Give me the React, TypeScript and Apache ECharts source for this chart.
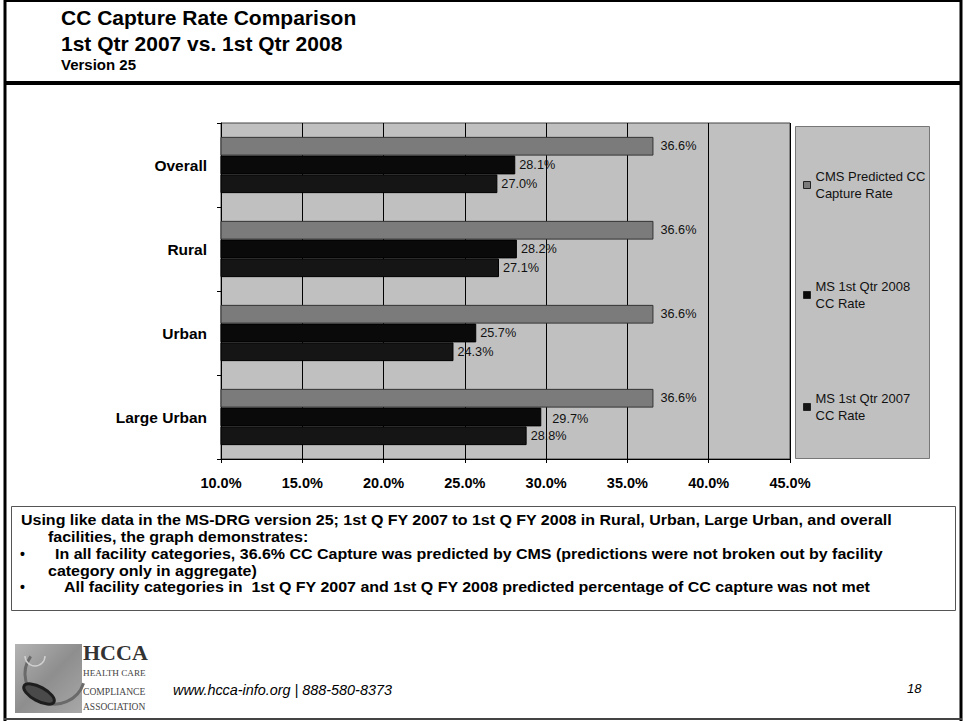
import { useEffect, useRef } from "react";
import * as echarts from "echarts";

// ---- data ----
const categories = ["Overall", "Rural", "Urban", "Large Urban"];
const seriesNames = [
  "CMS Predicted CC\nCapture Rate",
  "MS 1st Qtr 2008\nCC Rate",
  "MS 1st Qtr 2007\nCC Rate",
];
const cmsPredicted = [36.6, 36.6, 36.6, 36.6];
const ms2008 = [28.1, 28.2, 25.7, 29.7];
const ms2007 = [27.0, 27.1, 24.3, 28.8];
const axisMin = 10;
const axisMax = 45;
const axisStep = 5;

const titleLines = ["CC Capture Rate Comparison", "1st Qtr 2007 vs. 1st Qtr 2008"];
const subtitle = "Version 25";
const notes = [
  "Using like data in the MS-DRG version 25; 1st Q FY 2007 to 1st Q FY 2008 in Rural, Urban, Large Urban, and overall",
  "facilities, the graph demonstrates:",
  "In all facility categories, 36.6% CC Capture was predicted by CMS (predictions were not broken out by facility",
  "category only in aggregate)",
  "All facility categories in  1st Q FY 2007 and 1st Q FY 2008 predicted percentage of CC capture was not met",
];
const bulletedNotes = [2, 4];
const logoLines = ["HEALTH CARE", "COMPLIANCE", "ASSOCIATION"];
const footerText = "www.hcca-info.org | 888-580-8373";
const pageNumber = "18";

// ---- styling ----
const FONT = "'Liberation Sans', Arial, Helvetica, sans-serif";
const SERIF = "'Liberation Serif', 'Times New Roman', serif";
const barColors = ["#7b7b7b", "#0a0a0a", "#151515"];
const barBorders = ["#333333", "#000000", "#000000"];
const labelGaps = [7, 4, 4];
const legendTops = [170, 280, 392];

function pct(v: number) {
  return v.toFixed(1) + "%";
}

export default function App() {
  const ref = useRef<HTMLDivElement>(null);

  useEffect(() => {
    if (!ref.current) return;
    const chart = echarts.init(ref.current, null, { renderer: "svg" });

    const seriesData = [cmsPredicted, ms2008, ms2007];

    const series = seriesData.map((values, si) => ({
      name: seriesNames[si],
      type: "bar",
      barGap: "0%",
      barCategoryGap: "33%",
      itemStyle: {
        color: barColors[si],
        borderColor: barBorders[si],
        borderWidth: 1,
      },
      label: {
        show: true,
        position: "right",
        distance: labelGaps[si],
        fontFamily: FONT,
        fontSize: 12.7,
        color: "#111",
        formatter: (p: any) => pct(Number(p.value)),
      },
      data: values.map((v, ci) =>
        si === 1 && ci === 3
          ? { value: v, label: { distance: 11, offset: [0, 2] } }
          : v
      ),
    }));

    const legends = seriesNames.map((name, i) => ({
      data: [name],
      left: 803,
      top: legendTops[i],
      orient: "vertical",
      padding: 0,
      itemWidth: 7,
      itemHeight: 7,
      icon: "rect",
      selectedMode: false,
      itemStyle: { borderColor: "#222", borderWidth: 1 },
      textStyle: {
        fontFamily: FONT,
        fontSize: 13,
        color: "#111",
        lineHeight: 17,
        padding: [0, 0, -17, 0],
      },
    }));

    // the notes box text is set slightly condensed in height, wide in run
    const noteStyle = { fontFamily: FONT, fontSize: 14, fontWeight: "bold", fill: "#000", verticalAlign: "middle" };
    const noteScaleX = 1.143;
    const noteY = [520, 537, 554, 570.5, 587];
    const noteX = [21, 48, 55, 48, 64];

    const graphic: any[] = [
      // slide frame
      { type: "rect", shape: { x: 0, y: 0, width: 965, height: 721 }, style: { fill: "#fff" }, z: -10 },
      { type: "line", shape: { x1: 4, y1: 1, x2: 962, y2: 1 }, style: { stroke: "#000", lineWidth: 2 } },
      { type: "line", shape: { x1: 5, y1: 0, x2: 5, y2: 721 }, style: { stroke: "#000", lineWidth: 3 } },
      { type: "line", shape: { x1: 961, y1: 0, x2: 961, y2: 721 }, style: { stroke: "#000", lineWidth: 3 } },
      { type: "line", shape: { x1: 4, y1: 719, x2: 962, y2: 719 }, style: { stroke: "#444", lineWidth: 2 } },
      { type: "line", shape: { x1: 4, y1: 83, x2: 962, y2: 83 }, style: { stroke: "#000", lineWidth: 4 } },
      // titles
      {
        type: "text",
        x: 61,
        y: 17.5,
        style: { text: titleLines[0], fontFamily: FONT, fontSize: 21, fontWeight: "bold", fill: "#000", verticalAlign: "middle" },
      },
      {
        type: "text",
        x: 61,
        y: 43.5,
        style: { text: titleLines[1], fontFamily: FONT, fontSize: 21, fontWeight: "bold", fill: "#000", verticalAlign: "middle" },
      },
      {
        type: "text",
        x: 61,
        y: 64.5,
        style: { text: subtitle, fontFamily: FONT, fontSize: 15, fontWeight: "bold", fill: "#000", verticalAlign: "middle" },
      },
      // legend panel
      {
        type: "rect",
        shape: { x: 795.5, y: 126.5, width: 134, height: 332 },
        style: { fill: "#c0c0c0", stroke: "#777", lineWidth: 1 },
        z: 0,
      },
      // notes box
      {
        type: "rect",
        shape: { x: 11.5, y: 506.5, width: 944, height: 104 },
        style: { fill: "#fff", stroke: "#555", lineWidth: 1 },
      },
      ...notes.map((t, i) => ({
        type: "text",
        x: noteX[i],
        y: noteY[i],
        scaleX: noteScaleX,
        style: { ...noteStyle, text: t },
      })),
      ...bulletedNotes.map((i) => ({
        type: "text",
        x: 20,
        y: noteY[i],
        style: { ...noteStyle, text: "•" },
      })),
      // logo
      {
        type: "group",
        x: 15,
        y: 644,
        children: [
          {
            type: "rect",
            shape: { x: 0, y: 0, width: 67, height: 69 },
            style: {
              fill: new echarts.graphic.LinearGradient(0, 0, 1, 1, [
                { offset: 0, color: "#b4b4b4" },
                { offset: 0.5, color: "#8e8e8e" },
                { offset: 1, color: "#a8a8a8" },
              ]),
            },
          },
          { type: "arc", shape: { cx: 40, cy: 30, r: 30, startAngle: Math.PI * 0.1, endAngle: Math.PI * 1.2 }, style: { stroke: "#6a6a6a", lineWidth: 3, fill: null } },
          { type: "ellipse", shape: { cx: 24, cy: 50, rx: 17, ry: 7 }, rotation: -0.5, originX: 24, originY: 50, style: { fill: "#4a4a4a", stroke: "#1e1e1e", lineWidth: 3 } },
          { type: "arc", shape: { cx: 20, cy: 12, r: 10, startAngle: 0, endAngle: Math.PI }, style: { stroke: "#d0d0d0", lineWidth: 1.5, fill: null } },
        ],
      },
      { type: "text", x: 83, y: 652.5, style: { text: "HCCA", fontFamily: SERIF, fontSize: 22, fontWeight: "bold", fill: "#333", verticalAlign: "middle" } },
      ...logoLines.map((t, i) => ({
        type: "text",
        x: 83,
        y: [673, 691, 707][i],
        style: { text: t, fontFamily: SERIF, fontSize: [9.2, 9.6, 9.5][i], fill: "#444", verticalAlign: "middle" },
      })),
      { type: "text", x: 173, y: 690, style: { text: footerText, fontFamily: FONT, fontSize: 14.4, fontStyle: "italic", fill: "#000", verticalAlign: "middle" } },
      { type: "text", x: 907, y: 688, style: { text: pageNumber, fontFamily: FONT, fontSize: 13, fontStyle: "italic", fill: "#000", verticalAlign: "middle" } },
    ];

    chart.setOption({
      animation: false,
      backgroundColor: "#fff",
      textStyle: { fontFamily: FONT },
      grid: {
        left: 221,
        top: 123,
        width: 569,
        height: 336,
        show: true,
        backgroundColor: "#c0c0c0",
        borderColor: "#444",
        borderWidth: 1,
        containLabel: false,
      },
      xAxis: {
        type: "value",
        min: axisMin,
        max: axisMax,
        interval: axisStep,
        axisLine: { show: true, lineStyle: { color: "#000", width: 1 } },
        axisTick: { show: true, length: 4, lineStyle: { color: "#000" } },
        splitLine: { show: true, lineStyle: { color: "#000", width: 1 } },
        axisLabel: {
          margin: 16,
          fontFamily: FONT,
          fontSize: 14.5,
          fontWeight: "bold",
          color: "#000",
          formatter: (v: number) => pct(v),
        },
      },
      yAxis: {
        type: "category",
        inverse: true,
        data: categories,
        axisLine: { show: true, lineStyle: { color: "#000", width: 1 } },
        axisTick: { show: true, length: 4, lineStyle: { color: "#000" } },
        splitLine: { show: false },
        axisLabel: {
          margin: 14,
          fontFamily: FONT,
          fontSize: 15.5,
          fontWeight: "bold",
          color: "#000",
        },
      },
      legend: legends,
      series,
      graphic,
    } as any);

    return () => chart.dispose();
  }, []);

  return (
    <div
      ref={ref}
      style={{ position: "fixed", left: 0, top: 0, width: 965, height: 721, background: "#fff" }}
    />
  );
}
